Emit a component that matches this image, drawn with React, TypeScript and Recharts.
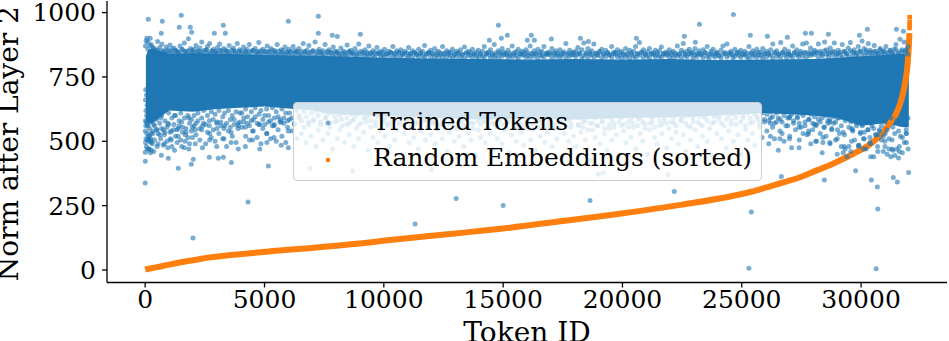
import {
  Area,
  ComposedChart,
  Legend,
  Line,
  Scatter,
  XAxis,
  YAxis,
} from "recharts";

const xTicks = [0, 5000, 10000, 15000, 20000, 25000, 30000];
const yTicks = [0, 250, 500, 750, 1000];
const legendLabels = ["Trained Tokens", "Random Embeddings (sorted)"];

// solid core of the blue cloud, read as an envelope
const bandIds = [30, 120, 300, 1000, 2000, 3000, 5000, 7000, 8000, 10000, 12000, 14000, 16000, 18000, 20000, 22000, 24000, 26000, 28000, 29000, 30000, 31000, 31800, 32000];
const bandHigh = [830, 855, 860, 840, 842, 840, 835, 832, 830, 825, 822, 820, 818, 820, 818, 820, 816, 818, 820, 825, 830, 835, 840, 840];
const bandLow = [580, 570, 570, 620, 615, 625, 635, 620, 605, 598, 590, 585, 587, 585, 590, 593, 600, 610, 600, 590, 560, 570, 555, 555];

// isolated points away from the cloud
const outlierIds = [130, 1513, 717, 1430, 1890, 3274, 5998, 7256, 7256, 2897, 3358, 9016, 7842, 8052, 1950, 675, 14800, 14925, 15176, 14422, 16183, 16014, 16308, 17022, 18237, 18571, 22594, 20583, 23055, 23224, 24650, 25360, 26073, 26912, 27667, 27918, 28630, 29930, 30264, 31480, 31774, 5, 1388, 970, 5160, 3610, 1933, 2017, 2688, 3063, 3274, 676, 5, 256, 0, 2003, 4310, 11310, 13030, 15000, 18640, 22170, 25400, 25300, 30630, 30700, 30680, 26660, 28460, 29770, 30430, 31350, 31520, 31990, 12000, 6900, 8700, 19200, 19000, 21900];
const outlierNorms = [974, 990, 966, 943, 943, 951, 966, 986, 920, 920, 920, 916, 912, 907, 924, 920, 951, 900, 912, 893, 912, 893, 893, 897, 900, 888, 908, 900, 885, 955, 993, 912, 908, 904, 920, 920, 916, 912, 935, 935, 927, 422, 395, 434, 404, 418, 411, 430, 438, 434, 438, 446, 457, 465, 338, 124, 264, 179, 278, 251, 270, 305, 225, 7, 5, 237, 322, 363, 350, 386, 350, 359, 342, 379, 390, 395, 385, 378, 372, 370];

const leftEdgeIds = [10, 40, 70, 20, 55, 15, 80, 30, 60, 10, 45, 90, 25, 5, 70, 35, 100, 15, 50, 85, 130, 180, 240, 170, 220, 300];
const leftEdgeNorms = [870, 890, 900, 700, 680, 660, 640, 620, 600, 580, 575, 565, 560, 540, 530, 510, 505, 495, 480, 470, 520, 500, 510, 470, 455, 490];

const topFringeIds = [
  120, 210, 260, 340, 430, 520, 610, 700, 790, 880, 960, 1040, 1130, 1210, 1290, 1380, 1460, 1550, 1640, 1720, 1810, 1900, 1970,
  2060, 2130, 2220, 2290, 2370, 2450, 2560, 2610, 2700, 2790, 2860, 2950, 3030, 3120, 3190, 3280, 3370, 3430, 3520, 3610, 3700, 3780, 3860, 3950,
  4030, 4120, 4200, 4270, 4360, 4450, 4520, 4610, 4700, 4760, 4850, 4930, 5020, 5110, 5180, 5270, 5350, 5440, 5530, 5600, 5700, 5770, 5860, 5950,
  6020, 6110, 6200, 6280, 6350, 6440, 6530, 6620, 6690, 6780, 6860, 6950, 7030, 7120, 7210, 7290, 7380, 7450, 7540, 7630, 7710, 7800, 7880, 7960,
  8040, 8130, 8200, 8290, 8380, 8460, 8540, 8620, 8700, 8790, 8870, 8950, 9040, 9120, 9210, 9290, 9370, 9450, 9540, 9620, 9710, 9790, 9870, 9960,
  10030, 10120, 10210, 10290, 10380, 10450, 10540, 10630, 10710, 10790, 10880, 10970, 11040, 11120, 11200, 11290, 11370, 11460, 11540, 11620, 11710, 11790, 11880, 11960,
  12040, 12130, 12210, 12290, 12380, 12460, 12540, 12630, 12710, 12790, 12870, 12960, 13040, 13120, 13210, 13290, 13380, 13460, 13540, 13630, 13710, 13790, 13880, 13960,
  14040, 14130, 14210, 14300, 14380, 14470, 14550, 14630, 14710, 14800, 14880, 14960, 15040, 15130, 15210, 15290, 15380, 15460, 15540, 15630, 15710, 15790, 15880, 15960,
  16040, 16130, 16210, 16300, 16380, 16460, 16550, 16630, 16710, 16800, 16880, 16960, 17040, 17130, 17210, 17290, 17380, 17460, 17540, 17630, 17710, 17790, 17880, 17960,
  18040, 18130, 18210, 18300, 18380, 18470, 18550, 18630, 18710, 18800, 18880, 18960, 19040, 19130, 19210, 19300, 19380, 19460, 19550, 19630, 19710, 19790, 19880, 19960,
  20040, 20130, 20210, 20300, 20380, 20470, 20550, 20630, 20710, 20800, 20880, 20960, 21040, 21130, 21210, 21300, 21380, 21460, 21550, 21630, 21710, 21800, 21880, 21960,
  22040, 22130, 22210, 22300, 22380, 22470, 22550, 22630, 22710, 22800, 22880, 22960, 23040, 23130, 23210, 23300, 23380, 23460, 23550, 23630, 23710, 23800, 23880, 23960,
  24040, 24130, 24210, 24300, 24380, 24470, 24550, 24630, 24710, 24800, 24880, 24960, 25040, 25130, 25210, 25300, 25380, 25460, 25550, 25630, 25710, 25800, 25880, 25960,
  26040, 26130, 26210, 26300, 26380, 26470, 26550, 26630, 26710, 26800, 26880, 26960, 27040, 27130, 27210, 27300, 27380, 27460, 27550, 27630, 27710, 27800, 27880, 27960,
  28040, 28130, 28210, 28300, 28380, 28470, 28550, 28630, 28710, 28800, 28880, 28960, 29040, 29130, 29210, 29300, 29380, 29460, 29550, 29630, 29710, 29800, 29880, 29960,
  30040, 30130, 30210, 30300, 30380, 30470, 30550, 30630, 30710, 30800, 30880, 30960, 31040, 31130, 31210, 31300, 31380, 31460, 31550, 31630, 31710, 31800, 31880, 31960,
];
const topFringeNorms = [
  885, 900, 875, 862, 856, 888, 864, 878, 852, 866, 850, 874, 858, 862, 852, 848, 870, 856, 882, 850, 898, 860, 854,
  858, 872, 850, 862, 886, 852, 856, 868, 880, 852, 858, 850, 864, 878, 852, 860, 856, 850, 872, 854, 862, 850, 880, 856,
  852, 866, 848, 858, 876, 850, 854, 860, 848, 884, 852, 858, 848, 870, 850, 860, 854, 846, 876, 850, 856, 852, 866, 846,
  858, 850, 868, 852, 846, 860, 850, 880, 848, 854, 872, 846, 852, 886, 850, 858, 846, 852, 876, 848, 856, 846, 866, 850,
  848, 842, 862, 850, 846, 874, 848, 854, 842, 860, 846, 878, 850, 842, 856, 846, 870, 842, 852, 846, 864, 840, 850, 846,
  858, 840, 850, 844, 868, 842, 852, 846, 856, 840, 850, 844, 864, 840, 852, 844, 838, 858, 842, 850, 872, 840, 846, 854,
  840, 860, 844, 850, 838, 868, 842, 852, 838, 846, 858, 836, 850, 842, 856, 838, 866, 844, 850, 836, 858, 840, 846, 854,
  838, 850, 868, 840, 846, 856, 836, 876, 844, 852, 838, 860, 846, 836, 854, 842, 870, 838, 848, 858, 840, 850, 836, 856,
  844, 870, 838, 852, 842, 858, 836, 850, 868, 840, 846, 838, 860, 844, 852, 836, 856, 842, 848, 880, 838, 854, 844, 836,
  850, 864, 840, 856, 882, 844, 860, 838, 852, 878, 842, 836, 850, 858, 840, 854, 844, 836, 868, 846, 838, 856, 844, 850,
  836, 860, 842, 854, 838, 850, 868, 840, 884, 846, 856, 838, 848, 860, 840, 844, 854, 836, 852, 866, 840, 846, 838, 856,
  844, 850, 836, 870, 840, 854, 880, 840, 850, 858, 838, 846, 860, 840, 852, 836, 856, 844, 868, 838, 850, 858, 840, 846,
  834, 854, 870, 840, 878, 844, 850, 836, 858, 840, 846, 854, 836, 850, 842, 868, 838, 852, 844, 858, 836, 846, 860, 840,
  850, 838, 856, 878, 842, 852, 838, 884, 846, 858, 840, 850, 836, 870, 844, 856, 838, 850, 878, 842, 882, 846, 862, 840,
  854, 844, 878, 850, 838, 886, 856, 842, 862, 846, 882, 840, 854, 846, 876, 850, 842, 862, 884, 846, 856, 844, 868, 850,
  890, 860, 846, 880, 854, 844, 872, 850, 840, 860, 846, 852, 868, 844, 854, 842, 858, 876, 846, 896, 856, 886, 852, 868,
];
// second pass over the same columns, close to the solid edge
const topEdgeNorms = [
  858, 872, 850, 862, 845, 855, 840, 851, 846, 838, 856, 842, 849, 836, 853, 845, 838, 858, 848, 841, 852, 837, 847,
  844, 836, 852, 840, 848, 834, 855, 843, 838, 850, 835, 846, 841, 853, 837, 844, 832, 849, 840, 836, 852, 843, 834, 848,
  840, 833, 850, 838, 845, 831, 852, 836, 842, 848, 833, 840, 850, 835, 846, 832, 842, 852, 837, 830, 845, 840, 834, 848,
  838, 846, 831, 842, 850, 835, 840, 830, 848, 836, 843, 829, 851, 838, 832, 845, 840, 830, 836, 848, 833, 843, 829, 838,
  846, 834, 828, 841, 836, 830, 848, 838, 844, 828, 835, 840, 826, 846, 832, 838, 829, 843, 834, 826, 840, 845, 830, 836,
  828, 840, 834, 846, 826, 838, 830, 844, 828, 836, 842, 825, 832, 840, 826, 846, 836, 828, 842, 833, 826, 838, 844, 829,
  841, 826, 836, 830, 843, 826, 839, 828, 846, 833, 825, 840, 830, 844, 827, 836, 824, 842, 832, 845, 827, 838, 830, 825,
  840, 830, 826, 843, 836, 825, 841, 828, 834, 824, 845, 830, 838, 842, 826, 834, 828, 844, 831, 825, 840, 834, 846, 827,
  835, 826, 842, 830, 838, 824, 845, 832, 827, 840, 836, 844, 825, 838, 830, 842, 826, 834, 840, 825, 843, 830, 836, 846,
  829, 838, 844, 825, 832, 840, 826, 846, 835, 827, 842, 833, 845, 825, 838, 829, 843, 835, 826, 840, 846, 828, 834, 824,
  841, 828, 836, 825, 844, 830, 826, 840, 833, 846, 827, 838, 831, 825, 842, 836, 828, 845, 830, 826, 840, 834, 844, 827,
  836, 825, 842, 830, 838, 826, 846, 833, 828, 840, 844, 825, 835, 829, 842, 838, 826, 845, 830, 824, 840, 833, 827, 843,
  832, 824, 838, 845, 827, 836, 842, 825, 830, 846, 834, 826, 841, 836, 828, 822, 843, 830, 836, 826, 845, 832, 824, 840,
  828, 842, 834, 824, 846, 830, 838, 826, 844, 835, 825, 840, 832, 827, 845, 836, 828, 842, 830, 846, 826, 838, 833, 844,
  836, 848, 828, 842, 832, 852, 838, 828, 846, 834, 850, 830, 842, 836, 826, 848, 838, 832, 852, 828, 844, 836, 830, 850,
  842, 832, 854, 838, 846, 830, 850, 836, 842, 856, 834, 848, 838, 830, 852, 844, 836, 858, 840, 832, 850, 842, 856, 838,
];

const lowFringeIds = [
  120, 180, 250, 320, 390, 470, 540, 610, 690, 760, 830, 910, 980, 1050, 1120, 1200, 1270, 1340, 1420, 1490, 1560, 1640, 1710, 1790, 1860, 1940,
  150, 230, 360, 500, 650, 800, 950, 1090, 1230, 1380, 1530, 1680, 1830, 1980,
  2050, 2130, 2210, 2290, 2370, 2450, 2530, 2610, 2690, 2770, 2850, 2930, 3010, 3090, 3170, 3250, 3330, 3410, 3490, 3570, 3650, 3730, 3810, 3890, 3970,
  2100, 2400, 2700, 3000, 3300, 3600, 3900,
  4050, 4130, 4210, 4290, 4370, 4450, 4530, 4610, 4690, 4770, 4850, 4930, 5010, 5090, 5170, 5250, 5330, 5410, 5490, 5570, 5650, 5730, 5810, 5890, 5970,
  4200, 4500, 4800, 5100, 5400, 5700, 6000,
  6050, 6150, 6250, 6350, 6450, 6550, 6650, 6750, 6850, 6950, 7050, 7150, 7250, 7350, 7450, 7550, 7650, 7750, 7850, 7950,
  8050, 8150, 8250, 8350, 8450, 8550, 8650, 8750, 8850, 8950, 9050, 9150, 9250, 9350, 9450, 9550, 9650, 9750, 9850, 9950,
  10050, 10150, 10250, 10350, 10450, 10550, 10650, 10750, 10850, 10950, 11050, 11150, 11250, 11350, 11450, 11550, 11650, 11750, 11850, 11950,
  12050, 12150, 12250, 12350, 12450, 12550, 12650, 12750, 12850, 12950, 13050, 13150, 13250, 13350, 13450, 13550, 13650, 13750, 13850, 13950,
  14050, 14150, 14250, 14350, 14450, 14550, 14650, 14750, 14850, 14950, 15050, 15150, 15250, 15350, 15450, 15550, 15650, 15750, 15850, 15950,
  16050, 16150, 16250, 16350, 16450, 16550, 16650, 16750, 16850, 16950, 17050, 17150, 17250, 17350, 17450, 17550, 17650, 17750, 17850, 17950,
  18050, 18150, 18250, 18350, 18450, 18550, 18650, 18750, 18850, 18950, 19050, 19150, 19250, 19350, 19450, 19550, 19650, 19750, 19850, 19950,
  20050, 20150, 20250, 20350, 20450, 20550, 20650, 20750, 20850, 20950, 21050, 21150, 21250, 21350, 21450, 21550, 21650, 21750, 21850, 21950,
  22050, 22150, 22250, 22350, 22450, 22550, 22650, 22750, 22850, 22950, 23050, 23150, 23250, 23350, 23450, 23550, 23650, 23750, 23850, 23950,
  24050, 24150, 24250, 24350, 24450, 24550, 24650, 24750, 24850, 24950, 25050, 25150, 25250, 25350, 25450, 25550, 25650, 25750, 25850, 25950,
  26050, 26130, 26210, 26290, 26370, 26450, 26530, 26610, 26690, 26770, 26850, 26930, 27010, 27090, 27170, 27250, 27330, 27410, 27490, 27570, 27650, 27730, 27810, 27890, 27970,
  26200, 26600, 27000, 27400, 27800,
  28050, 28130, 28210, 28290, 28370, 28450, 28530, 28610, 28690, 28770, 28850, 28930, 29010, 29090, 29170, 29250, 29330, 29410, 29490, 29570, 29650, 29730, 29810, 29890, 29970,
  28100, 28400, 28700, 29000, 29300, 29600, 29900,
  30050, 30130, 30210, 30290, 30370, 30450, 30530, 30610, 30690, 30770, 30850, 30930, 31010, 31090, 31170, 31250, 31330, 31410, 31490, 31570, 31650, 31730, 31810, 31890, 31970,
  30100, 30400, 30700, 31000, 31300, 31600, 31900,
];
const lowFringeNorms = [
  560, 520, 495, 530, 505, 545, 490, 525, 550, 485, 535, 500, 565, 510, 480, 545, 520, 495, 560, 505, 535, 475, 550, 515, 490, 540,
  470, 500, 460, 480, 510, 490, 475, 505, 465, 520, 480, 500, 470, 515,
  560, 525, 580, 505, 545, 570, 490, 535, 560, 515, 585, 500, 550, 530, 575, 510, 560, 480, 540, 585, 520, 565, 495, 550, 575,
  490, 475, 505, 480, 510, 495, 470,
  555, 590, 520, 570, 505, 580, 540, 595, 515, 565, 490, 550, 600, 530, 575, 510, 560, 590, 500, 545, 585, 520, 570, 495, 555,
  480, 505, 470, 495, 515, 485, 475,
  585, 540, 565, 510, 590, 530, 555, 495, 575, 520, 585, 480, 545, 565, 505, 590, 530, 555, 470, 575,
  510, 545, 585, 495, 565, 525, 580, 480, 550, 510, 570, 535, 590, 465, 555, 515, 575, 495, 540, 580,
  520, 560, 480, 575, 505, 545, 565, 450, 530, 585, 495, 555, 515, 570, 470, 540, 580, 505, 560, 525,
  575, 490, 545, 565, 510, 585, 460, 535, 570, 500, 550, 520, 575, 480, 560, 530, 505, 570, 445, 545,
  515, 580, 495, 555, 530, 470, 565, 510, 585, 490, 545, 570, 455, 525, 560, 500, 575, 535, 485, 555,
  570, 505, 545, 465, 580, 520, 560, 495, 535, 575, 480, 550, 510, 570, 440, 530, 585, 500, 555, 520,
  480, 560, 535, 575, 505, 545, 425, 570, 515, 560, 490, 580, 530, 465, 550, 505, 570, 525, 445, 560,
  540, 495, 575, 515, 555, 470, 585, 530, 500, 565, 450, 545, 575, 515, 490, 560, 530, 580, 475, 550,
  510, 570, 535, 490, 585, 525, 460, 560, 505, 575, 545, 480, 565, 520, 590, 500, 550, 445, 575, 530,
  585, 510, 560, 475, 540, 580, 500, 565, 525, 450, 590, 545, 505, 570, 530, 485, 585, 555, 515, 575,
  540, 490, 590, 555, 510, 575, 465, 585, 530, 500, 560, 590, 520, 475, 570, 545, 595, 505, 555, 530,
  560, 525, 585, 490, 545, 570, 510, 590, 475, 540, 565, 500, 585, 530, 455, 555, 520, 580, 495, 545, 570, 505, 590, 530, 480,
  455, 470, 440, 480, 460,
  545, 505, 570, 480, 535, 560, 495, 575, 450, 525, 550, 485, 565, 510, 470, 545, 495, 560, 440, 525, 480, 545, 505, 460, 530,
  450, 470, 440, 465, 445, 470, 435,
  520, 455, 495, 530, 470, 510, 440, 525, 480, 505, 460, 530, 495, 445, 515, 475, 535, 455, 500, 525, 470, 510, 485, 530, 460,
  410, 440, 420, 450, 415, 435, 420,
];
// second pass over the same columns, near the lower edge of the solid part
const lowEdgeNorms = [
  590, 550, 575, 540, 560, 585, 530, 570, 600, 545, 580, 555, 610, 535, 590, 565, 600, 545, 580, 610, 555, 590, 535, 600, 570, 585,
  510, 530, 565, 545, 590, 525, 570, 540, 600, 550, 575, 525, 590, 555,
  600, 570, 610, 550, 590, 620, 565, 600, 580, 615, 545, 605, 575, 620, 560, 595, 610, 570, 620, 555, 600, 585, 615, 570, 610,
  545, 560, 530, 570, 550, 535, 560,
  610, 575, 625, 595, 560, 615, 585, 630, 570, 605, 620, 585, 565, 625, 600, 580, 630, 565, 615, 595, 575, 625, 590, 610, 580,
  555, 540, 565, 530, 560, 575, 540,
  610, 590, 570, 620, 600, 580, 615, 595, 565, 610, 580, 620, 600, 575, 615, 590, 605, 570, 610, 595,
  580, 600, 560, 610, 590, 570, 605, 585, 600, 565, 610, 590, 575, 600, 580, 610, 560, 595, 605, 575,
  590, 570, 600, 560, 585, 605, 575, 595, 565, 600, 580, 555, 595, 575, 600, 565, 590, 580, 555, 600,
  570, 590, 560, 600, 580, 550, 595, 570, 585, 555, 600, 575, 590, 560, 585, 600, 570, 550, 595, 580,
  565, 595, 575, 550, 590, 570, 600, 555, 585, 565, 595, 550, 580, 600, 570, 555, 590, 565, 600, 575,
  550, 590, 570, 600, 555, 585, 575, 595, 560, 580, 600, 565, 590, 550, 575, 600, 555, 585, 570, 595,
  600, 565, 590, 555, 580, 600, 570, 545, 590, 560, 600, 575, 550, 595, 565, 585, 555, 600, 575, 590,
  565, 600, 555, 585, 570, 600, 560, 590, 575, 550, 600, 570, 590, 555, 600, 580, 565, 595, 570, 600,
  575, 590, 560, 605, 580, 595, 570, 600, 555, 590, 605, 575, 595, 560, 600, 580, 610, 570, 595, 605,
  595, 570, 610, 585, 600, 565, 605, 590, 610, 575, 600, 560, 610, 590, 575, 605, 595, 570, 610, 585,
  605, 580, 615, 595, 570, 610, 590, 620, 575, 600, 615, 560, 595, 605, 580, 620, 590, 570, 610, 600, 575, 615, 585, 605, 570,
  520, 540, 510, 555, 530,
  595, 565, 605, 575, 590, 555, 600, 570, 585, 550, 595, 575, 545, 590, 560, 535, 580, 600, 555, 575, 540, 590, 560, 575, 530,
  500, 515, 490, 510, 480, 500, 485,
  560, 535, 575, 545, 515, 570, 550, 525, 585, 540, 560, 520, 575, 545, 510, 590, 555, 530, 580, 540, 565, 515, 570, 545, 590,
  470, 490, 460, 500, 470, 480, 495,
];

// sorted curve, read along its centre
const curveIds = [0, 200, 500, 900, 1500, 2296, 3500, 5090, 7890, 10680, 13000, 15080, 17500, 19500, 22440, 25390, 26000, 26860, 27500, 28140, 28800, 29260, 29800, 30240, 30600, 30930, 31200, 31495, 31700, 31850, 31950, 31995, 32025];
const curveNorms = [2, 6, 11, 19, 30, 43, 57, 71, 93, 120, 142, 162, 190, 214, 253, 304, 320, 343, 362, 387, 412, 432, 458, 480, 505, 535, 570, 612, 665, 730, 800, 860, 920];
const curveTopIds = [32035, 32035, 32035, 32030];
const curveTopNorms = [982, 963, 952, 940];

const xDomain = [-1600, 33600];
const yDomain = [-48.6, 1045];

const zip = (ids: number[], norms: number[]) =>
  ids
    .map((id, i) => ({ id, norm: norms[i] }))
    .filter((d) => d.norm !== undefined);

const bandData = bandIds.map((id, i) => ({ id, band: [bandLow[i], bandHigh[i]] }));
const trainedData = [
  ...zip(topFringeIds, topEdgeNorms),
  ...zip(lowFringeIds, lowEdgeNorms),
  ...zip(topFringeIds, topFringeNorms),
  ...zip(lowFringeIds, lowFringeNorms),
  ...zip(leftEdgeIds, leftEdgeNorms),
  ...zip(outlierIds, outlierNorms),
];
const curveData = zip(curveIds, curveNorms);
const curveTopData = zip(curveTopIds, curveTopNorms);

const FONT = "'DejaVu Serif', serif";
const BLUE = "#1f77b4";
const ORANGE = "#ff7f0e";

const BlueDot = (props: any) => (
  <circle cx={props.cx} cy={props.cy} r={2.5} fill={BLUE} fillOpacity={0.6} />
);

const OrangeSquare = (props: any) => (
  <rect x={props.cx - 2.3} y={props.cy - 2.3} width={4.6} height={4.6} fill={ORANGE} />
);

function LegendBox() {
  return (
    <div
      style={{
        width: 467,
        height: 77,
        position: "relative",
        background: "rgba(255,255,255,0.8)",
        border: "1px solid #cccccc",
        borderRadius: 4,
        fontFamily: FONT,
        fontSize: 25,
        color: "#000",
      }}
    >
      <svg width={60} height={77} style={{ position: "absolute", left: 0, top: 0 }}>
        <circle cx={34} cy={20} r={2.5} fill={BLUE} fillOpacity={0.6} />
        <rect x={32} y={55} width={4} height={4} fill={ORANGE} />
      </svg>
      <div style={{ position: "absolute", left: 79, top: 4, whiteSpace: "nowrap" }}>
        {legendLabels[0]}
      </div>
      <div style={{ position: "absolute", left: 79, top: 40, whiteSpace: "nowrap" }}>
        {legendLabels[1]}
      </div>
    </div>
  );
}

export default function App() {
  const tickStyle = { fontFamily: FONT, fontSize: 25, fill: "#000" };
  return (
    <div style={{ position: "absolute", left: 0, top: 0, width: 949, height: 341 }}>
      <ComposedChart
        width={949}
        height={341}
        margin={{ top: 1, right: 2, bottom: 0, left: 0 }}
      >
        <XAxis
          type="number"
          dataKey="id"
          domain={xDomain}
          ticks={xTicks}
          interval={0}
          height={58.5}
          tick={tickStyle}
          tickSize={5}
          tickMargin={3}
          stroke="#000"
          strokeWidth={1.3}
          label={{
            value: "Token ID",
            position: "insideBottom",
            offset: -1,
            style: { fontFamily: FONT, fontSize: 28, fill: "#000" },
          }}
        />
        <YAxis
          type="number"
          dataKey="norm"
          domain={yDomain}
          ticks={yTicks}
          interval={0}
          width={107}
          tick={tickStyle}
          tickSize={5}
          tickMargin={6}
          stroke="#000"
          strokeWidth={1.3}
          label={{
            value: "Norm after Layer 2",
            angle: -90,
            position: "insideLeft",
            offset: 8,
            dy: 2,
            style: { fontFamily: FONT, fontSize: 28, fill: "#000", textAnchor: "middle" },
          }}
        />
        <Legend
          layout="vertical"
          align="center"
          verticalAlign="middle"
          content={<LegendBox />}
          wrapperStyle={{ left: 293, top: 102, width: 469, height: 79, bottom: "auto", right: "auto" }}
        />
        <Area
          data={bandData}
          dataKey="band"
          type="linear"
          fill={BLUE}
          fillOpacity={1}
          stroke="none"
          dot={false}
          activeDot={false}
          legendType="none"
          isAnimationActive={false}
        />
        <Scatter
          name={legendLabels[0]}
          data={trainedData}
          shape={BlueDot}
          isAnimationActive={false}
        />
        <Line
          name={legendLabels[1]}
          data={curveData}
          dataKey="norm"
          type="monotone"
          stroke={ORANGE}
          strokeWidth={6}
          dot={false}
          activeDot={false}
          isAnimationActive={false}
        />
        <Scatter
          data={curveTopData}
          shape={OrangeSquare}
          legendType="none"
          isAnimationActive={false}
        />
      </ComposedChart>
    </div>
  );
}
